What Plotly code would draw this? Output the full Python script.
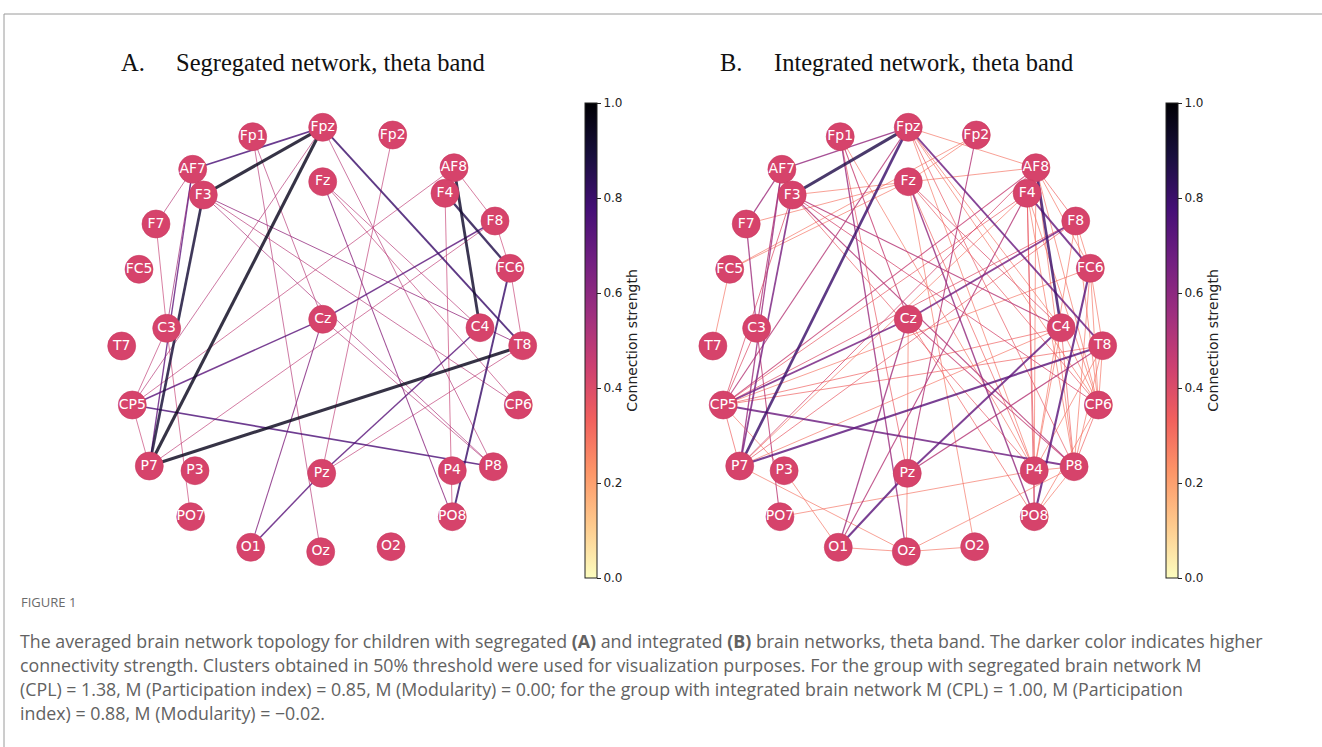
import plotly.graph_objects as go
import plotly.express as px
from plotly.colors import sample_colorscale

W, H = 1322, 747

# Electrode layout (positions, panel-A frame, y downward)
electrodes = ["Fp1", "Fpz", "Fp2", "AF7", "AF8", "F7", "F3", "Fz", "F4", "F8",
              "FC5", "FC6", "T7", "C3", "Cz", "C4", "T8", "CP5", "CP6",
              "P7", "P3", "Pz", "P4", "P8", "PO7", "PO8", "O1", "Oz", "O2"]
elec_x = [252.7, 322.7, 392.7, 192.7, 454.0, 156.0, 203.3, 322.7, 445.0, 495.0,
          139.0, 510.0, 121.7, 166.7, 322.7, 480.0, 522.7, 132.3, 518.3,
          149.3, 195.0, 321.7, 452.3, 493.3, 190.7, 452.3, 250.7, 320.7, 391.0]
elec_y = [136.7, 127.3, 135.0, 169.3, 167.7, 224.0, 195.0, 181.7, 193.3, 221.0,
          269.3, 268.3, 346.0, 328.3, 319.3, 327.7, 345.7, 405.0, 405.0,
          466.0, 470.7, 473.3, 470.7, 466.7, 516.7, 516.7, 547.3, 551.7, 546.7]

# Panel A: segregated network edges (source, target, strength)
edges_a = [
    ("Fpz", "F3", 0.95), ("Fpz", "P7", 0.95), ("P7", "T8", 0.95), ("F3", "P7", 0.9),
    ("AF8", "C4", 0.92), ("F4", "FC6", 0.86), ("Fpz", "T8", 0.8), ("FC6", "PO8", 0.8),
    ("AF7", "Fpz", 0.76), ("CP5", "P8", 0.75), ("F8", "Cz", 0.72), ("Cz", "CP5", 0.72),
    ("C4", "Pz", 0.72), ("Pz", "O1", 0.72), ("AF7", "P7", 0.7), ("Cz", "O1", 0.62),
    ("Fz", "PO8", 0.6), ("F3", "T8", 0.58), ("AF7", "C3", 0.55),
    ("Fpz", "CP5", 0.5), ("AF8", "CP5", 0.48), ("F8", "P7", 0.48), ("Fpz", "P8", 0.5),
    ("Fp2", "Pz", 0.48), ("Fp1", "Oz", 0.5), ("Fp1", "Cz", 0.5), ("F3", "P8", 0.52),
    ("F3", "CP6", 0.5), ("Cz", "P8", 0.5), ("Fz", "C4", 0.5), ("Fz", "CP6", 0.48),
    ("T8", "Pz", 0.48), ("F4", "PO8", 0.46), ("AF7", "F7", 0.5), ("F7", "C3", 0.46),
    ("C3", "CP5", 0.48), ("CP5", "P7", 0.46), ("C3", "PO7", 0.46), ("AF8", "F8", 0.46),
    ("F8", "FC6", 0.45), ("FC6", "T8", 0.46),
]

# Panel B: integrated network edges (source, target, strength)
edges_b = [
    ("Fpz", "F3", 0.86), ("Fpz", "P7", 0.8), ("AF8", "C4", 0.8), ("F4", "FC6", 0.7),
    ("Fpz", "T8", 0.68), ("P7", "T8", 0.72), ("CP5", "P8", 0.68), ("C4", "Pz", 0.7),
    ("Pz", "O1", 0.72), ("FC6", "PO8", 0.72), ("F8", "Cz", 0.66), ("Cz", "CP5", 0.66),
    ("F3", "P7", 0.65), ("AF7", "Fpz", 0.58), ("Cz", "O1", 0.55), ("Fz", "PO8", 0.58),
    ("Fp1", "Oz", 0.56), ("AF7", "F7", 0.55), ("F7", "C3", 0.55), ("AF7", "C3", 0.5),
    ("F3", "C4", 0.5), ("F3", "P8", 0.5), ("Fpz", "CP5", 0.5), ("AF8", "CP5", 0.46),
    ("T8", "Pz", 0.5), ("F4", "O1", 0.5), ("Fp2", "Pz", 0.5), ("C3", "PO7", 0.48),
    ("AF7", "P7", 0.56), ("Fp1", "Cz", 0.46), ("Cz", "P8", 0.46), ("F3", "CP6", 0.42),
    ("AF8", "P7", 0.42), ("F8", "P7", 0.36), ("Fz", "C4", 0.4), ("Fz", "CP6", 0.36),
    ("F4", "P4", 0.36), ("F4", "PO8", 0.36),
    ("Fpz", "AF8", 0.3), ("Fpz", "C4", 0.3), ("Fpz", "CP6", 0.3), ("Fpz", "P8", 0.36),
    ("Fpz", "P4", 0.3), ("Fp1", "P4", 0.3), ("Fp1", "Pz", 0.36), ("Fp2", "Fz", 0.3),
    ("F3", "AF8", 0.3), ("AF8", "F8", 0.34), ("AF8", "FC6", 0.3), ("AF8", "CP6", 0.3),
    ("AF8", "P8", 0.3), ("AF8", "P4", 0.3), ("F4", "CP5", 0.36), ("F4", "P7", 0.3),
    ("F4", "CP6", 0.3), ("F4", "P8", 0.3), ("F8", "CP5", 0.4), ("F8", "FC6", 0.3),
    ("F8", "CP6", 0.3), ("F8", "P4", 0.3), ("FC6", "CP5", 0.3), ("FC6", "T8", 0.3),
    ("FC6", "CP6", 0.3), ("FC6", "P8", 0.3), ("FC5", "T7", 0.3), ("FC5", "Fz", 0.3),
    ("FC5", "Fp2", 0.3), ("F7", "Fz", 0.3), ("F3", "P4", 0.36), ("F3", "CP5", 0.4),
    ("C3", "CP5", 0.4), ("C4", "CP5", 0.34), ("C4", "P7", 0.3), ("C4", "CP6", 0.3),
    ("C4", "P8", 0.34), ("C4", "P4", 0.3), ("T8", "CP5", 0.34), ("T8", "P8", 0.3),
    ("T8", "CP6", 0.3), ("T8", "P4", 0.3), ("Cz", "Pz", 0.3), ("Cz", "PO8", 0.34),
    ("Fz", "O2", 0.3), ("Fz", "P4", 0.34), ("CP5", "P7", 0.34), ("CP5", "P3", 0.3),
    ("CP6", "P8", 0.34), ("CP6", "PO8", 0.3), ("P7", "Oz", 0.3), ("P3", "O1", 0.3),
    ("PO7", "P4", 0.3), ("P4", "PO8", 0.44), ("P4", "P8", 0.3), ("P8", "PO8", 0.3),
    ("P8", "Oz", 0.3), ("O1", "Oz", 0.3), ("Oz", "O2", 0.3), ("Pz", "Oz", 0.3),
]

panel_letters = ["A.", "B."]
panel_titles = ["Segregated network, theta band", "Integrated network, theta band"]
cbar_ticks = [0.0, 0.2, 0.4, 0.6, 0.8, 1.0]
cbar_title = "Connection strength"
caption_head = "FIGURE 1"
caption_lines = [
    "The averaged brain network topology for children with segregated <b>(A)</b> and integrated <b>(B)</b> brain networks, theta band. The darker color indicates higher",
    "connectivity strength. Clusters obtained in 50% threshold were used for visualization purposes. For the group with segregated brain network M",
    "(CPL) = 1.38, M (Participation index) = 0.85, M (Modularity) = 0.00; for the group with integrated brain network M (CPL) = 1.00, M (Participation",
    "index) = 0.88, M (Modularity) = \u22120.02.",
]

cmap = px.colors.sequential.Magma_r
pos = {n: (x, y) for n, x, y in zip(electrodes, elec_x, elec_y)}

fig = go.Figure()


def add_panel(edges, xa, ya, wmin, wmax):
    for s, t, w in sorted(edges, key=lambda e: e[2]):
        col = sample_colorscale(cmap, [w])[0]
        r = max(0.0, (w - wmin) / (wmax - wmin))
        width = 0.8 + 2.3 * r ** 2
        fig.add_trace(go.Scatter(
            x=[pos[s][0], pos[t][0]], y=[pos[s][1], pos[t][1]],
            mode="lines", line=dict(color=col, width=width),
            opacity=0.82, hoverinfo="skip", showlegend=False,
            xaxis=xa, yaxis=ya))
    fig.add_trace(go.Scatter(
        x=elec_x, y=elec_y, mode="markers+text", text=electrodes,
        textposition="middle center",
        textfont=dict(family="DejaVu Sans", size=14, color="white"),
        marker=dict(size=28, color="#d6436b", line=dict(width=0.6, color="#c93a62")),
        hoverinfo="skip", showlegend=False, xaxis=xa, yaxis=ya))


add_panel(edges_a, "x", "y", 0.45, 0.95)
add_panel(edges_b, "x2", "y2", 0.28, 0.86)


def cbar(xpix):
    return dict(
        x=xpix / W, xanchor="left", y=1 - 578 / H, yanchor="bottom",
        len=(578 - 103) / H, lenmode="fraction", thickness=12, thicknessmode="pixels",
        xpad=0, ypad=0, outlinewidth=1, outlinecolor="#222",
        ticks="outside", ticklen=4, tickwidth=1, tickcolor="#222",
        tickvals=cbar_ticks, ticktext=[f"{v:.1f}" for v in cbar_ticks],
        tickfont=dict(family="DejaVu Sans", size=12, color="#222"),
        title=dict(text=cbar_title, side="right",
                   font=dict(family="DejaVu Sans", size=14, color="#222")),
    )


# dummy traces that carry the colour scales
fig.add_trace(go.Scatter(x=[-999], y=[-999], mode="markers", showlegend=False,
                         marker=dict(color=[0.5], coloraxis="coloraxis"), xaxis="x", yaxis="y"))
fig.add_trace(go.Scatter(x=[-999], y=[-999], mode="markers", showlegend=False,
                         marker=dict(color=[0.5], coloraxis="coloraxis2"), xaxis="x2", yaxis="y2"))

ax_common = dict(visible=False, showgrid=False, zeroline=False, fixedrange=True)
scale_b = 0.972
bx0 = 691.8
fig.update_layout(
    width=W, height=H, autosize=False,
    margin=dict(l=0, r=0, t=0, b=0),
    paper_bgcolor="white", plot_bgcolor="white",
    xaxis=dict(range=[100, 560], domain=[100 / W, 560 / W], **ax_common),
    yaxis=dict(range=[580, 90], domain=[1 - 580 / H, 1 - 90 / H], **ax_common),
    xaxis2=dict(range=[100, 560], domain=[bx0 / W, (bx0 + 460 * scale_b) / W], **ax_common),
    yaxis2=dict(range=[580, 90], domain=[1 - 580 / H, 1 - 90 / H], **ax_common),
    coloraxis=dict(colorscale=cmap, cmin=0, cmax=1, colorbar=cbar(585)),
    coloraxis2=dict(colorscale=cmap, cmin=0, cmax=1, colorbar=cbar(1166)),
    showlegend=False,
)

# panel titles
for lx, tx, letter, txt in zip([119, 718], [174, 772], panel_letters, panel_titles):
    fig.add_annotation(x=lx / W, y=1 - 62 / H, xref="paper", yref="paper",
                       xanchor="left", yanchor="middle", showarrow=False, text=letter,
                       font=dict(family="Liberation Serif", size=24.5, color="#111"))
    fig.add_annotation(x=tx / W, y=1 - 62 / H, xref="paper", yref="paper",
                       xanchor="left", yanchor="middle", showarrow=False, text=txt,
                       font=dict(family="Liberation Serif", size=24.5, color="#111"))

# caption
fig.add_annotation(x=19 / W, y=1 - 602 / H, xref="paper", yref="paper",
                   xanchor="left", yanchor="middle", showarrow=False, text=caption_head,
                   font=dict(family="Open Sans", size=13, color="#6b6b6b"))
for i, line in enumerate(caption_lines):
    fig.add_annotation(x=18 / W, y=1 - (641 + 24 * i) / H, xref="paper", yref="paper",
                       xanchor="left", yanchor="middle", showarrow=False, text=line,
                       font=dict(family="Open Sans", size=17.8, color="#626262"))

# page frame lines
fig.add_shape(type="line", xref="paper", yref="paper", x0=4 / W, x1=1, y0=1 - 14 / H, y1=1 - 14 / H,
              line=dict(color="#9a9a9a", width=1))
fig.add_shape(type="line", xref="paper", yref="paper", x0=4 / W, x1=4 / W, y0=0, y1=1 - 14 / H,
              line=dict(color="#9a9a9a", width=1))

fig.write_html("out.html", config={"displayModeBar": False},
               post_script="document.body.style.margin='0';")
